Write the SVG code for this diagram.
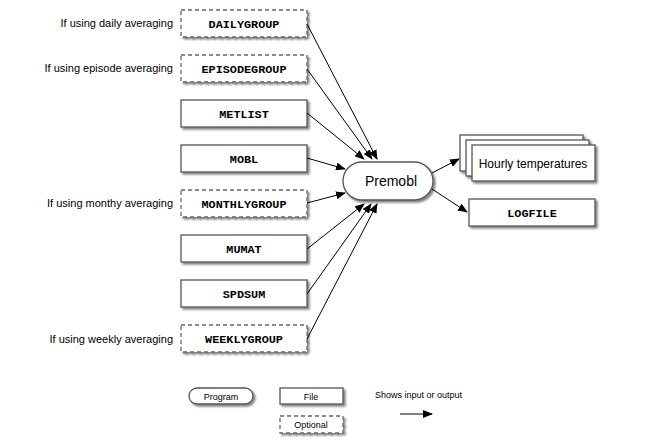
<svg xmlns="http://www.w3.org/2000/svg" width="650" height="443" viewBox="0 0 650 443">
<defs>
<filter id="sh" x="-10%" y="-20%" width="130%" height="160%">
<feGaussianBlur in="SourceAlpha" stdDeviation="1.2"/>
<feOffset dx="2" dy="2" result="b"/>
<feComponentTransfer><feFuncA type="linear" slope="0.5"/></feComponentTransfer>
<feMerge><feMergeNode/><feMergeNode in="SourceGraphic"/></feMerge>
</filter>
<marker id="ah" markerWidth="10" markerHeight="8" refX="9" refY="4" orient="auto" markerUnits="userSpaceOnUse">
<path d="M0,0 L10,4 L0,8 Z" fill="#000"/>
</marker>
</defs>
<style>
.f{fill:#fff;stroke:#555;stroke-width:1.3;filter:url(#sh)}
.o{fill:#fff;stroke:#666;stroke-width:1.3;stroke-dasharray:4 3;filter:url(#sh)}
.m{font-family:"Liberation Mono",monospace;font-weight:bold;font-size:11.8px;text-anchor:middle;fill:#000}
.s{font-family:"Liberation Sans",Arial,sans-serif;font-size:11px;fill:#000}
.p{font-size:14px}
.h{font-size:12px}
.l{font-size:9px}
.r{text-anchor:end}
.c{text-anchor:middle}
.e{stroke:#000;stroke-width:1;fill:none;marker-end:url(#ah)}
</style>
<rect width="650" height="443" fill="#fff"/>
<g id="labels">
<text class="s r" x="173" y="27">If using daily averaging</text>
<text class="s r" x="173" y="72">If using episode averaging</text>
<text class="s r" x="173" y="207">If using monthy averaging</text>
<text class="s r" x="173" y="343">If using weekly averaging</text>
</g>
<g id="dailygroup"><rect class="o" x="181" y="10" width="126" height="27"/><text class="m" x="244" y="28">DAILYGROUP</text></g>
<g id="episodegroup"><rect class="o" x="181" y="55" width="126" height="27"/><text class="m" x="244" y="73">EPISODEGROUP</text></g>
<g id="metlist"><rect class="f" x="181" y="100" width="126" height="27"/><text class="m" x="244" y="118">METLIST</text></g>
<g id="mobl"><rect class="f" x="181" y="145" width="126" height="27"/><text class="m" x="244" y="163">MOBL</text></g>
<g id="monthlygroup"><rect class="o" x="181" y="190" width="126" height="27"/><text class="m" x="244" y="208">MONTHLYGROUP</text></g>
<g id="mumat"><rect class="f" x="181" y="235" width="126" height="27"/><text class="m" x="244" y="253">MUMAT</text></g>
<g id="spdsum"><rect class="f" x="181" y="280" width="126" height="27"/><text class="m" x="244" y="298">SPDSUM</text></g>
<g id="weeklygroup"><rect class="o" x="181" y="325" width="126" height="27"/><text class="m" x="244" y="343">WEEKLYGROUP</text></g>
<g id="premobl"><rect class="f" x="343" y="162" width="90" height="38" rx="19"/><text class="s c p" x="391" y="186">Premobl</text></g>
<g id="hourly">
<rect class="f" x="460" y="135" width="123" height="36"/>
<rect class="f" x="466" y="140" width="123" height="36"/>
<rect class="f" x="472" y="145" width="123" height="36"/>
<text class="s c h" x="533" y="168">Hourly temperatures</text>
</g>
<g id="logfile"><rect class="f" x="469" y="199" width="126" height="27"/><text class="m" x="532" y="217">LOGFILE</text></g>
<g id="connectors">
<line class="e" x1="307" y1="24" x2="377" y2="159"/>
<line class="e" x1="307" y1="69" x2="372" y2="159"/>
<line class="e" x1="307" y1="113" x2="364" y2="159"/>
<line class="e" x1="307" y1="158" x2="345" y2="169"/>
<line class="e" x1="307" y1="203" x2="345" y2="193"/>
<line class="e" x1="307" y1="249" x2="364" y2="204"/>
<line class="e" x1="307" y1="294" x2="371" y2="204"/>
<line class="e" x1="307" y1="339" x2="377" y2="204"/>
<line class="e" x1="432" y1="173" x2="459" y2="159"/>
<line class="e" x1="432" y1="189" x2="467" y2="212"/>
</g>
<g id="legend">
<rect class="f" x="189" y="388" width="64" height="16" rx="8"/><text class="s c l" x="221" y="400">Program</text>
<rect class="f" x="280" y="388" width="63" height="16"/><text class="s c l" x="311" y="400">File</text>
<rect class="o" x="280" y="416" width="63" height="17"/><text class="s c l" x="311" y="428">Optional</text>
<text class="s l" x="375" y="398">Shows input or output</text>
<line class="e" x1="400" y1="414" x2="432" y2="414"/>
</g>
</svg>
